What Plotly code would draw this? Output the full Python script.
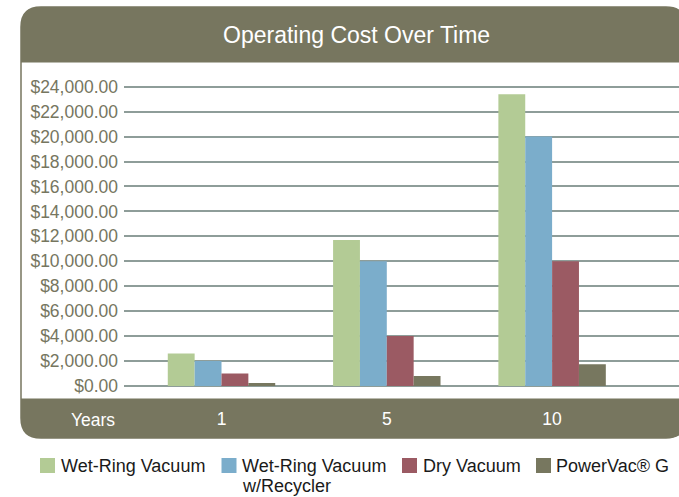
import plotly.graph_objects as go

# ---- data ----
years = ["1", "5", "10"]
series_names = ["Wet-Ring Vacuum", "Wet-Ring Vacuum<br>w/Recycler", "Dry Vacuum", "PowerVac® G"]
wet_ring = [2600, 11700, 23400]
wet_ring_recycler = [2000, 10000, 20000]
dry_vacuum = [1000, 4000, 10000]
powervac = [250, 800, 1750]
series_values = [wet_ring, wet_ring_recycler, dry_vacuum, powervac]
colors = ["#B3CB95", "#7BADCB", "#9B5A63", "#77775F"]
y_ticks = list(range(0, 24001, 2000))

W, H = 679, 497
OLIVE = "#77765F"
FONT = "Liberation Sans, Arial, Helvetica, sans-serif"


def X(px):
    return px / W


def Y(py):
    return 1 - py / H


fig = go.Figure()
for name, vals, col in zip(series_names, series_values, colors):
    fig.add_trace(go.Bar(x=years, y=vals, name=name.replace("<br>", " "),
                         marker=dict(color=col, line=dict(width=0)),
                         showlegend=False))

# frame geometry (pixels)
L, R, T, B = 21, 686, 7, 438
rad = 20
head_b = 62.5
foot_t = 398.5


def rounded_top(l, r, t, b, r0):
    return (f"M {X(l)},{Y(b)} L {X(l)},{Y(t + r0)} Q {X(l)},{Y(t)} {X(l + r0)},{Y(t)} "
            f"L {X(r - r0)},{Y(t)} Q {X(r)},{Y(t)} {X(r)},{Y(t + r0)} L {X(r)},{Y(b)} Z")


def rounded_bottom(l, r, t, b, r0):
    return (f"M {X(l)},{Y(t)} L {X(l)},{Y(b - r0)} Q {X(l)},{Y(b)} {X(l + r0)},{Y(b)} "
            f"L {X(r - r0)},{Y(b)} Q {X(r)},{Y(b)} {X(r)},{Y(b - r0)} L {X(r)},{Y(t)} Z")


def rounded_all(l, r, t, b, r0):
    return (f"M {X(l)},{Y(t + r0)} Q {X(l)},{Y(t)} {X(l + r0)},{Y(t)} "
            f"L {X(r - r0)},{Y(t)} Q {X(r)},{Y(t)} {X(r)},{Y(t + r0)} "
            f"L {X(r)},{Y(b - r0)} Q {X(r)},{Y(b)} {X(r - r0)},{Y(b)} "
            f"L {X(l + r0)},{Y(b)} Q {X(l)},{Y(b)} {X(l)},{Y(b - r0)} Z")


shapes = [
    dict(type="path", xref="paper", yref="paper", path=rounded_all(L, R, T, B, rad),
         line=dict(color=OLIVE, width=1.5), fillcolor="white", layer="below"),
    dict(type="path", xref="paper", yref="paper", path=rounded_top(L, R, T, head_b, rad),
         line=dict(width=0), fillcolor=OLIVE, layer="below"),
    dict(type="path", xref="paper", yref="paper", path=rounded_bottom(L, R, foot_t, B, rad),
         line=dict(width=0), fillcolor=OLIVE, layer="below"),
]

annotations = [
    dict(text="Operating Cost Over Time", x=X(356), y=Y(35), xref="paper", yref="paper",
         showarrow=False, xanchor="center", yanchor="middle",
         font=dict(family=FONT, size=23, color="white")),
    dict(text="Years", x=X(93), y=Y(420), xref="paper", yref="paper",
         showarrow=False, xanchor="center", yanchor="middle",
         font=dict(family=FONT, size=17.5, color="white")),
]

# custom legend (square swatches + labels)
sq_left = [40, 221.5, 402, 536]
txt_left = [60.5, 241.5, 423, 556]
sq_top, sq_size = 458, 15
line_centers = [465.5, 486]
for name, col, sx, tx in zip(series_names, colors, sq_left, txt_left):
    shapes.append(dict(type="rect", xref="paper", yref="paper",
                       x0=X(sx), x1=X(sx + sq_size), y0=Y(sq_top + sq_size), y1=Y(sq_top),
                       fillcolor=col, line=dict(width=0)))
    for i, part in enumerate(name.split("<br>")):
        annotations.append(dict(text=part, x=X(tx - 2), y=Y(line_centers[i]),
                                xref="paper", yref="paper",
                                showarrow=False, xanchor="left", yanchor="middle", align="left",
                                font=dict(family=FONT, size=18, color="#1A1A1A")))

# axis geometry
zero_px, top_px = 386.0, 86.7
ppu = (zero_px - top_px) / 24000.0
plot_top, plot_bot = head_b + 0.5, foot_t
y_range = [-(plot_bot - zero_px) / ppu, (zero_px - plot_top) / ppu]

x_left, x_right = 124, W
c0, step = 221.5, 165.3
x_range = [(x_left - c0) / step, (x_right - c0) / step]

fig.update_layout(
    width=W, height=H, autosize=False,
    margin=dict(l=0, r=0, t=0, b=0),
    paper_bgcolor="white", plot_bgcolor="rgba(0,0,0,0)",
    barmode="group", bargap=0.35, bargroupgap=0,
    shapes=shapes, annotations=annotations,
    showlegend=False,
    font=dict(family=FONT),
    xaxis=dict(domain=[X(x_left), 1], range=x_range, type="category",
               showgrid=False, zeroline=False, showline=False, ticks="",
               tickfont=dict(family=FONT, size=17.5, color="white"),
               ticklabelstandoff=8, automargin=False, fixedrange=True),
    yaxis=dict(domain=[Y(plot_bot), Y(plot_top)], range=y_range,
               tickvals=y_ticks, tickformat="$,.2f",
               showgrid=True, gridcolor="#8E9D99", gridwidth=2,
               zeroline=False, showline=False, ticks="",
               tickfont=dict(family=FONT, size=17.5, color="#76765F"),
               ticklabelstandoff=5, automargin=False, fixedrange=True),
)

fig.write_html("out.html", config={"displayModeBar": False},
               post_script="document.body.style.margin='0';")
